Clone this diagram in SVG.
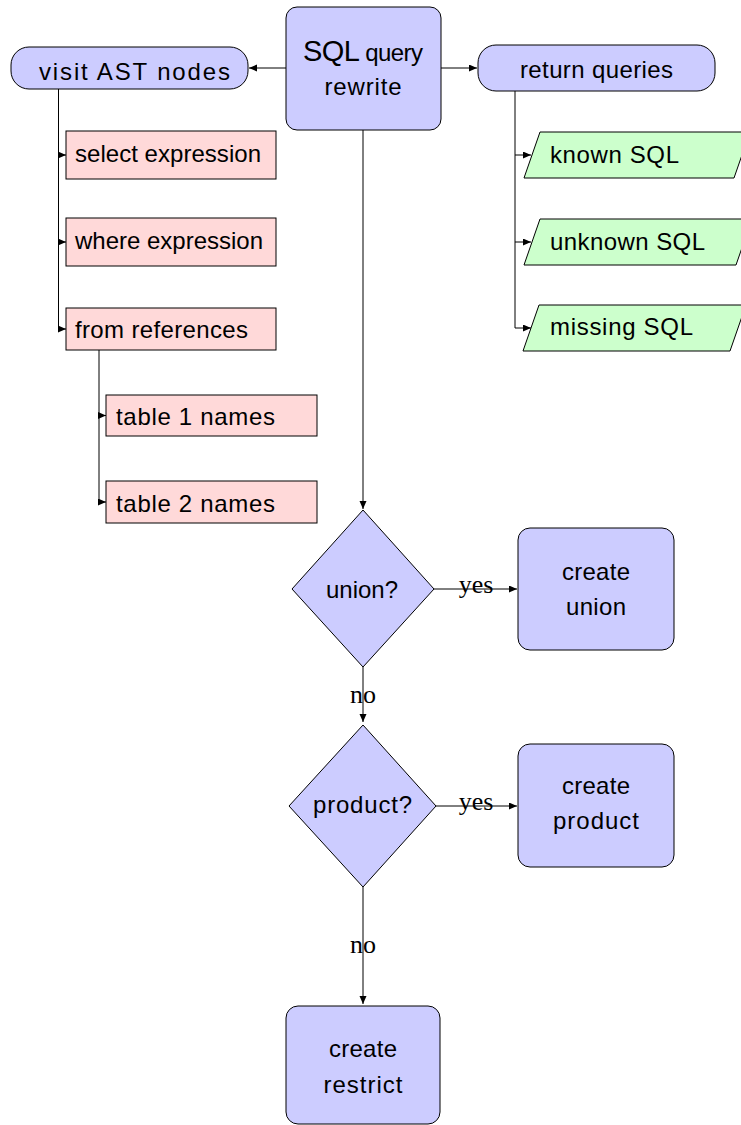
<svg xmlns="http://www.w3.org/2000/svg" width="741" height="1125" viewBox="0 0 741 1125">
<style>
.blue{fill:#ccccff;stroke:#000;stroke-width:1}
.pink{fill:#ffd9d9;stroke:#000;stroke-width:1}
.green{fill:#ccffcc;stroke:#000;stroke-width:1}
.t{font-family:"Liberation Sans",Arial,sans-serif;font-size:24px;fill:#000}
.c{text-anchor:middle}
.lbl{font-family:"Liberation Serif","Times New Roman",serif;font-size:26px;fill:#000;text-anchor:middle}
.e{fill:none;stroke:#000;stroke-width:1}
</style>
<defs>
<marker id="ah" markerUnits="userSpaceOnUse" markerWidth="10" markerHeight="8" refX="8" refY="3.5" orient="auto">
<path d="M0,0 L8,3.5 L0,7 z" fill="#000"/>
</marker>
</defs>
<g id="connectors">
<path class="e" d="M286,68 H249" marker-end="url(#ah)"/>
<path class="e" d="M441,68 H477" marker-end="url(#ah)"/>
<path class="e" d="M58.5,89 V329"/>
<path class="e" d="M58.5,155 H66" marker-end="url(#ah)"/>
<path class="e" d="M58.5,242 H66" marker-end="url(#ah)"/>
<path class="e" d="M58.5,329 H66" marker-end="url(#ah)"/>
<path class="e" d="M99,350 V502"/>
<path class="e" d="M99,415.5 H106" marker-end="url(#ah)"/>
<path class="e" d="M99,502 H106" marker-end="url(#ah)"/>
<path class="e" d="M515,91 V328"/>
<path class="e" d="M515,155 H531" marker-end="url(#ah)"/>
<path class="e" d="M515,242 H531" marker-end="url(#ah)"/>
<path class="e" d="M515,328 H531" marker-end="url(#ah)"/>
<path class="e" d="M363,130 V509" marker-end="url(#ah)"/>
<path class="e" d="M363,667 V722" marker-end="url(#ah)"/>
<path class="e" d="M363,887 V1004" marker-end="url(#ah)"/>
<path class="e" d="M434,589 H517" marker-end="url(#ah)"/>
<path class="e" d="M436,806 H517" marker-end="url(#ah)"/>
<text class="lbl" x="476" y="593">yes</text>
<text class="lbl" x="476" y="810">yes</text>
<text class="lbl" x="363" y="703">no</text>
<text class="lbl" x="363" y="953">no</text>
</g>
<g id="sql-rewrite">
<rect class="blue" x="286" y="7" width="155" height="123" rx="11"/>
<text class="t c" x="363" y="61" textLength="120"><tspan font-size="29px">SQL</tspan> query</text>
<text class="t c" x="363" y="95" textLength="77">rewrite</text>
</g>
<g id="visit-ast">
<rect class="blue" x="11" y="47" width="237" height="42" rx="18"/>
<text class="t c" x="134.5" y="80" font-size="25px" textLength="191">visit AST nodes</text>
</g>
<g id="return-queries">
<rect class="blue" x="478" y="45" width="237" height="46" rx="18"/>
<text class="t c" x="596.5" y="78" textLength="153">return queries</text>
</g>
<g id="select-expression">
<rect class="pink" x="66" y="131" width="210" height="48"/>
<text class="t" x="75" y="162" textLength="186">select expression</text>
</g>
<g id="where-expression">
<rect class="pink" x="66" y="218" width="210" height="48"/>
<text class="t" x="75" y="249" textLength="188">where expression</text>
</g>
<g id="from-references">
<rect class="pink" x="66" y="308" width="210" height="42"/>
<text class="t" x="75" y="338" textLength="173">from references</text>
</g>
<g id="table1">
<rect class="pink" x="106" y="395" width="211" height="41"/>
<text class="t" x="116" y="425" textLength="159">table 1 names</text>
</g>
<g id="table2">
<rect class="pink" x="106" y="481" width="211" height="42"/>
<text class="t" x="116" y="512" textLength="159">table 2 names</text>
</g>
<g id="known-sql">
<polygon class="green" points="524,178 540,132 750,132 734,178"/>
<text class="t" x="550" y="163" textLength="129">known SQL</text>
</g>
<g id="unknown-sql">
<polygon class="green" points="524,265 540,219 752,219 736,265"/>
<text class="t" x="550" y="250" textLength="155">unknown SQL</text>
</g>
<g id="missing-sql">
<polygon class="green" points="523,351 539,305 746,305 730,351"/>
<text class="t" x="550" y="335" textLength="143">missing SQL</text>
</g>
<g id="union-q">
<polygon class="blue" points="363,510 434,589 363,667 292,589"/>
<text class="t c" x="362" y="598" textLength="72">union?</text>
</g>
<g id="create-union">
<rect class="blue" x="518" y="528" width="156" height="122" rx="12"/>
<text class="t c" x="596" y="580" textLength="68">create</text>
<text class="t c" x="596" y="615" textLength="60">union</text>
</g>
<g id="product-q">
<polygon class="blue" points="363,725 436,806 363,887 289,806"/>
<text class="t c" x="362.5" y="813" textLength="99">product?</text>
</g>
<g id="create-product">
<rect class="blue" x="518" y="744" width="156" height="123" rx="12"/>
<text class="t c" x="596" y="794" textLength="68">create</text>
<text class="t c" x="596" y="829" textLength="86">product</text>
</g>
<g id="create-restrict">
<rect class="blue" x="286" y="1006" width="154" height="118" rx="12"/>
<text class="t c" x="363" y="1057" textLength="68">create</text>
<text class="t c" x="363" y="1093" textLength="79">restrict</text>
</g>
</svg>
